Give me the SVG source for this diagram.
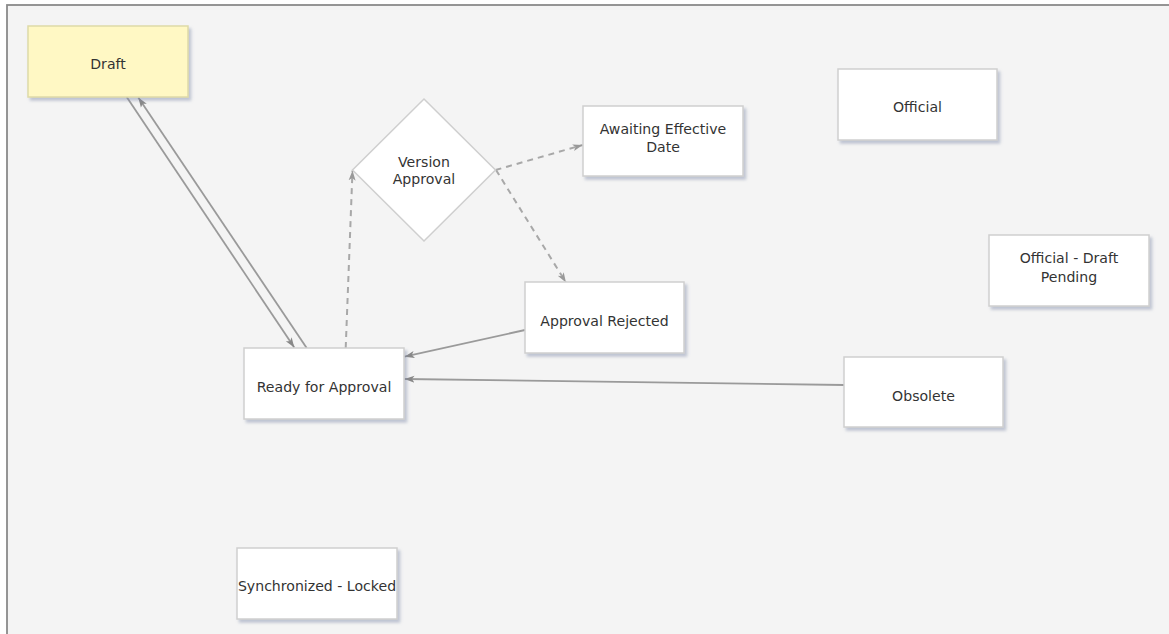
<svg xmlns="http://www.w3.org/2000/svg" width="1169" height="634" viewBox="0 0 1169 634">
<defs>
<style>
.box{fill:#ffffff;stroke:#cfcfcf;stroke-width:1.5;filter:url(#sh)}
.draft{fill:#fff8c4;stroke:#dedaa8;stroke-width:1.5;filter:url(#sh)}
.dia{fill:#ffffff;stroke:#cfcfcf;stroke-width:1.5}
.lbl{font-family:"DejaVu Sans","Liberation Sans",sans-serif;font-size:14.1px;fill:#333;text-anchor:middle}
.solid{fill:none;stroke:#9a9a9a;stroke-width:1.8}
.dash{fill:none;stroke:#a8a8a8;stroke-width:2;stroke-dasharray:6 5}
</style>
<filter id="sh" x="-10%" y="-10%" width="130%" height="140%">
<feDropShadow dx="2.5" dy="3" stdDeviation="1.5" flood-color="#7e8aa8" flood-opacity="0.45"/>
</filter>
<marker id="ar" markerUnits="userSpaceOnUse" markerWidth="11" markerHeight="9" refX="10" refY="4.5" orient="auto">
<path d="M0,1 L10,4.5 L0,8 L2.5,4.5 z" fill="#888"/>
</marker>
<marker id="ard" markerUnits="userSpaceOnUse" markerWidth="11" markerHeight="9" refX="10" refY="4.5" orient="auto">
<path d="M0,1 L10,4.5 L0,8 L2.5,4.5 z" fill="#999"/>
</marker>
</defs>
<rect x="0" y="0" width="1169" height="634" fill="#ffffff"/>
<rect x="7" y="5" width="1170" height="640" fill="#f4f4f4" stroke="#8a8a8a" stroke-width="1.8"/>

<g id="connectors">
<line class="solid" x1="126.7" y1="97" x2="294.3" y2="347.5" marker-end="url(#ar)"/>
<line class="solid" x1="306.7" y1="348" x2="138.3" y2="97.5" marker-end="url(#ar)"/>
<line class="dash" x1="345.7" y1="348" x2="352.5" y2="170.5" marker-end="url(#ard)"/>
<line class="dash" x1="495.5" y1="170" x2="582.7" y2="145" marker-end="url(#ard)"/>
<line class="dash" x1="496" y1="170" x2="566" y2="282.5" marker-end="url(#ard)"/>
<line class="solid" x1="525" y1="330" x2="404.5" y2="356.7" marker-end="url(#ar)"/>
<line class="solid" x1="844" y1="385" x2="404.5" y2="379" marker-end="url(#ar)"/>
</g>

<g id="draft">
<rect class="draft" x="28" y="26" width="160" height="71"/>
<text class="lbl" x="108" y="68.5">Draft</text>
</g>
<g id="version-approval">
<polygon class="dia" points="424,99 495.5,170 424,241 352.5,170"/>
<text class="lbl" x="424" y="166.5">Version</text>
<text class="lbl" x="424" y="184.2">Approval</text>
</g>
<g id="awaiting-effective-date">
<rect class="box" x="583" y="106" width="160" height="70"/>
<text class="lbl" x="663" y="134.3">Awaiting Effective</text>
<text class="lbl" x="663" y="151.8">Date</text>
</g>
<g id="official">
<rect class="box" x="838" y="69" width="159" height="71"/>
<text class="lbl" x="917.5" y="112.3">Official</text>
</g>
<g id="official-draft-pending">
<rect class="box" x="989" y="235" width="160" height="71"/>
<text class="lbl" x="1069" y="263.3">Official - Draft</text>
<text class="lbl" x="1069" y="281.7">Pending</text>
</g>
<g id="approval-rejected">
<rect class="box" x="525" y="282" width="159" height="71"/>
<text class="lbl" x="604.5" y="326">Approval Rejected</text>
</g>
<g id="ready-for-approval">
<rect class="box" x="244" y="348" width="160" height="71"/>
<text class="lbl" x="324" y="391.7">Ready for Approval</text>
</g>
<g id="obsolete">
<rect class="box" x="844" y="357" width="159" height="70"/>
<text class="lbl" x="923.5" y="400.5">Obsolete</text>
</g>
<g id="synchronized-locked">
<rect class="box" x="237" y="548" width="160" height="71"/>
<text class="lbl" x="317" y="590.6">Synchronized - Locked</text>
</g>
</svg>
